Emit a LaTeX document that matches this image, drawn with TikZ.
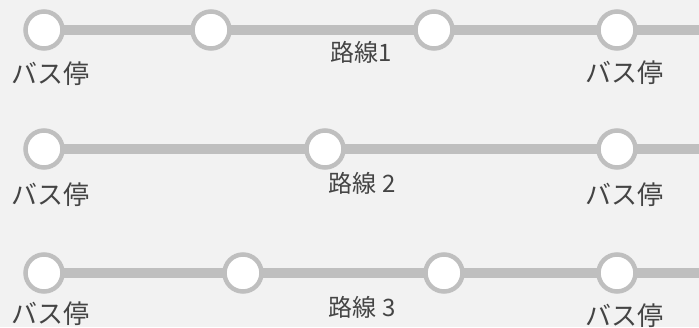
\documentclass[tikz,border=0pt]{standalone}
\usepackage{fontspec}
\usetikzlibrary{backgrounds}
\newfontfamily\jpfont{Noto Sans CJK JP}
\definecolor{bgc}{HTML}{F2F2F2}
\definecolor{linec}{HTML}{BFBFBF}
\definecolor{txtc}{HTML}{444444}
\tikzset{
  stopnode/.style={circle, fill=white, draw=linec, line width=4.5pt, minimum size=37pt, inner sep=0pt},
  routeline/.style={draw=linec, line width=10pt},
  stoplabel/.style={text=txtc, font=\jpfont\fontsize{26}{29}\selectfont, inner sep=0pt},
  routelabel/.style={text=txtc, font=\jpfont\fontsize{24}{27}\selectfont, inner sep=0pt}
}
\begin{document}
\begin{tikzpicture}[x=1pt,y=-1pt]
\useasboundingbox (0,0) rectangle (699,327);
% row 1
\coordinate (e1) at (710,30);
\node[stopnode] (a1) at (44,30) {};
\node[stopnode] (a2) at (211,30) {};
\node[stopnode] (a3) at (434,30) {};
\node[stopnode] (a4) at (617,30) {};
% row 2
\coordinate (e2) at (710,149);
\node[stopnode] (b1) at (44,149) {};
\node[stopnode] (b2) at (325,149) {};
\node[stopnode] (b3) at (617,149) {};
% row 3
\coordinate (e3) at (710,273);
\node[stopnode] (c1) at (44,273) {};
\node[stopnode] (c2) at (243,273) {};
\node[stopnode] (c3) at (444,273) {};
\node[stopnode] (c4) at (617,273) {};
% lines
\begin{scope}[on background layer]
\fill[bgc] (0,0) rectangle (699,327);
\draw[routeline] (a1.center) -- (a2.center) -- (a3.center) -- (a4.center) -- (e1);
\draw[routeline] (b1.center) -- (b2.center) -- (b3.center) -- (e2);
\draw[routeline] (c1.center) -- (c2.center) -- (c3.center) -- (c4.center) -- (e3);
\end{scope}
% labels
\node[stoplabel] (l11) at (51,74) {バス停};
\node[stoplabel] (l12) at (624,73) {バス停};
\node[routelabel] (r1) at (361,52) {路線1};
\node[stoplabel] (l21) at (51,195) {バス停};
\node[stoplabel] (l22) at (624,195) {バス停};
\node[routelabel] (r2) at (362,183) {路線 2};
\node[stoplabel] (l31) at (51,314) {バス停};
\node[stoplabel] (l32) at (624,316) {バス停};
\node[routelabel] (r3) at (362,307) {路線 3};
\end{tikzpicture}
\end{document}
